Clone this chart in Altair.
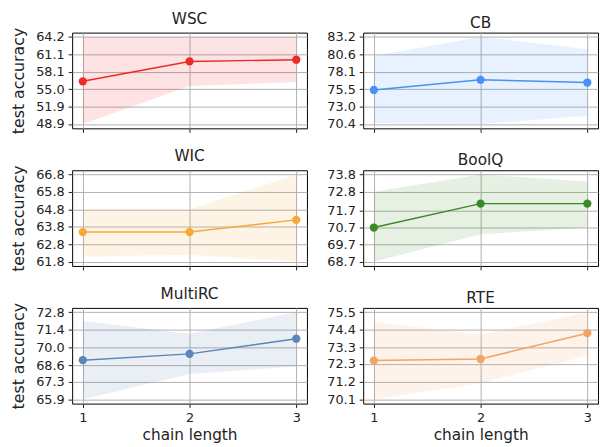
import altair as alt
import pandas as pd

chain = [1, 2, 3]
names = ["WSC", "CB", "WIC", "BoolQ", "MultiRC", "RTE"]
colors = ["#ee2a24", "#4a90f5", "#f7a938", "#3a8a28", "#5a86b8", "#eea566"]

means = [
    [56.4, 59.9, 60.2],
    [75.4, 76.9, 76.5],
    [63.5, 63.5, 64.2],
    [70.7, 72.1, 72.1],
    [69.0, 69.5, 70.7],
    [72.5, 72.6, 74.2],
]
lows = [
    [48.9, 55.6, 56.3],
    [70.5, 70.4, 71.6],
    [62.1, 62.2, 61.8],
    [68.7, 70.3, 70.7],
    [65.9, 67.9, 68.5],
    [70.1, 71.1, 72.8],
]
highs = [
    [64.2, 64.2, 64.2],
    [80.4, 83.2, 81.4],
    [64.8, 64.8, 66.8],
    [72.8, 73.8, 73.4],
    [72.1, 71.1, 72.8],
    [74.9, 74.1, 75.5],
]
yticks = [
    [48.9, 51.9, 55.0, 58.1, 61.1, 64.2],
    [70.4, 73.0, 75.5, 78.1, 80.6, 83.2],
    [61.8, 62.8, 63.8, 64.8, 65.8, 66.8],
    [68.7, 69.7, 70.7, 71.7, 72.8, 73.8],
    [65.9, 67.3, 68.6, 70.0, 71.4, 72.8],
    [70.1, 71.2, 72.3, 73.3, 74.4, 75.5],
]

FONT = "DejaVu Sans"


def panel(i, bottom, left):
    df = pd.DataFrame({"chain": chain, "mean": means[i], "lo": lows[i], "hi": highs[i]})
    t = yticks[i]
    pad = (t[-1] - t[0]) * 0.05
    yscale = alt.Scale(domain=[t[0] - pad, t[-1] + pad], nice=False, zero=False)
    xscale = alt.Scale(domain=[0.9, 3.1], nice=False)
    xkw = dict(values=[1, 2, 3], format="d", labels=bottom, title="chain length" if bottom else "",
               titlePadding=3, titleFontSize=15.5)
    ykw = dict(values=t, format=".1f", title="test accuracy" if left else "", titlePadding=9)
    xaxis = alt.Axis(**xkw)
    yaxis = alt.Axis(**ykw)
    c = colors[i]
    band = alt.Chart(df).mark_area(color=c, opacity=0.13).encode(
        x=alt.X("chain:Q", scale=xscale, axis=xaxis),
        y=alt.Y("lo:Q", scale=yscale, axis=yaxis),
        y2="hi:Q",
    )
    line = alt.Chart(df).mark_line(color=c, strokeWidth=1.5).encode(
        x=alt.X("chain:Q", scale=xscale, axis=xaxis),
        y=alt.Y("mean:Q", scale=yscale, axis=yaxis),
    )
    pts = alt.Chart(df).mark_circle(color=c, size=70, opacity=1).encode(
        x=alt.X("chain:Q", scale=xscale, axis=xaxis),
        y=alt.Y("mean:Q", scale=yscale, axis=yaxis),
    )
    return alt.layer(band, line, pts).properties(
        width=238, height=97,
        title=alt.TitleParams(names[i], fontSize=15.5, font=FONT, fontWeight="normal", offset=0),
    )


rows = []
for r in range(3):
    rows.append(alt.hconcat(panel(2 * r, r == 2, True), panel(2 * r + 1, r == 2, False), spacing=18))

chart = alt.vconcat(*rows, spacing=14.5).properties(
    padding={"left": 2, "top": 0, "right": 0, "bottom": 0}
).configure_view(
    stroke="black", strokeWidth=1
).configure_axis(
    labelFont=FONT, labelFontSize=13, labelColor="#222222", labelPadding=4,
    titleFont=FONT, titleFontSize=16, titleFontWeight="normal", titleColor="#222222",
    gridColor="#b0b0b0", gridWidth=1, tickColor="#222222", tickSize=4,
    domain=False,
).configure_title(font=FONT, fontSize=15.5, fontWeight="normal", color="#222222")

chart.save("out.html", embed_options={"renderer": "svg", "actions": False})
